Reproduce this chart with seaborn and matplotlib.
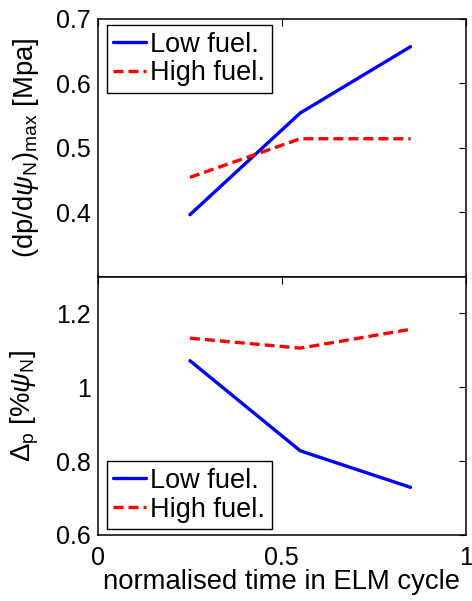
import matplotlib
matplotlib.use("Agg")
import matplotlib.pyplot as plt
import seaborn as sns
import pandas as pd

# normalised time within the ELM cycle
t = [0.25, 0.55, 0.85]
cases = ["Low fuel.", "High fuel."]

# peak pressure gradient (dp/dpsi_N)_max [MPa]
grad_low = [0.396, 0.554, 0.657]
grad_high = [0.454, 0.514, 0.514]

# pedestal width Delta_p [% psi_N]
width_low = [1.072, 0.828, 0.729]
width_high = [1.133, 1.106, 1.157]

grad_df = pd.DataFrame({
    "t": t * 2,
    "v": grad_low + grad_high,
    "case": [cases[0]] * 3 + [cases[1]] * 3,
})
width_df = pd.DataFrame({
    "t": t * 2,
    "v": width_low + width_high,
    "case": [cases[0]] * 3 + [cases[1]] * 3,
})

sns.set_style("white")
plt.rcParams["font.family"] = ["Liberation Sans", "DejaVu Sans"]
plt.rcParams["mathtext.fontset"] = "custom"
plt.rcParams["mathtext.rm"] = "Liberation Sans"
plt.rcParams["mathtext.it"] = "Liberation Sans:italic"
plt.rcParams["mathtext.bf"] = "Liberation Sans:bold"
plt.rcParams["text.color"] = "black"
plt.rcParams["axes.labelcolor"] = "black"
plt.rcParams["legend.labelcolor"] = "black"

TICK_FS = 18
LABEL_FS = 19.8
LEG_FS = 19.5
palette = {cases[0]: "#0000ff", cases[1]: "#ff0000"}
dashes = {cases[0]: "", cases[1]: (3, 1.5)}

fig = plt.figure(figsize=(4.72, 6.01), dpi=100)
W, H = 472, 601
left, right = 98 / W, 465.7 / W
ax1 = fig.add_axes([left, 1 - 276.5 / H, right - left, (276.5 - 19) / H])
ax2 = fig.add_axes([left, 1 - 535 / H, right - left, (535 - 276.5) / H])


def draw(ax, df):
    sns.lineplot(data=df, x="t", y="v", hue="case", style="case",
                 hue_order=cases, style_order=cases, palette=palette,
                 dashes=dashes, linewidth=2.4, ax=ax, legend=True)
    for s in ax.spines.values():
        s.set_linewidth(1.1)
        s.set_color("black")
    ax.tick_params(direction="in", length=5, width=0.8, top=True, right=True,
                   labelsize=TICK_FS, colors="black", pad=5)
    ax.set_xlim(0, 1)
    ax.set_xticks([0, 0.5, 1])
    ax.set_xlabel("")
    ax.set_ylabel("")


draw(ax1, grad_df)
ax1.set_ylim(0.3, 0.7)
ax1.set_yticks([0.4, 0.5, 0.6, 0.7])
ax1.set_yticklabels(["0.4", "0.5", "0.6", "0.7"])
ax1.tick_params(labelbottom=False)
ax1.set_ylabel(r"$(\mathrm{dp/d}\psi_\mathrm{N})_\mathrm{max}$ [Mpa]",
               fontsize=LABEL_FS, color="black")
ax1.yaxis.set_label_coords(-0.155, 0.5)

draw(ax2, width_df)
ax2.set_ylim(0.6, 1.3)
ax2.set_yticks([0.6, 0.8, 1.0, 1.2])
ax2.set_yticklabels(["0.6", "0.8", "1", "1.2"])
ax2.set_xticklabels(["0", "0.5", "1"])
ax2.tick_params(axis="x", pad=8)
ax2.set_ylabel(r"$\Delta_\mathrm{p}$ [%$\psi_\mathrm{N}$]",
               fontsize=LABEL_FS, color="black")
ax2.yaxis.set_label_coords(-0.155, 0.5)
ax2.set_xlabel("normalised time in ELM cycle", fontsize=LABEL_FS,
               labelpad=-1, color="black")

legend_kw = dict(fontsize=LEG_FS, frameon=True, fancybox=False, framealpha=1,
                 edgecolor="black", borderpad=0.25, labelspacing=0.1,
                 handlelength=1.2, handletextpad=0.16, borderaxespad=0)

h, l = ax1.get_legend_handles_labels()
lg1 = ax1.legend(h, l, loc="upper left", bbox_to_anchor=(0.0235, 0.977), **legend_kw)
lg1.get_frame().set_linewidth(1.0)

h, l = ax2.get_legend_handles_labels()
lg2 = ax2.legend(h, l, loc="lower left", bbox_to_anchor=(0.0235, 0.022), **legend_kw)
lg2.get_frame().set_linewidth(1.0)

fig.savefig("out.png", dpi=100)
